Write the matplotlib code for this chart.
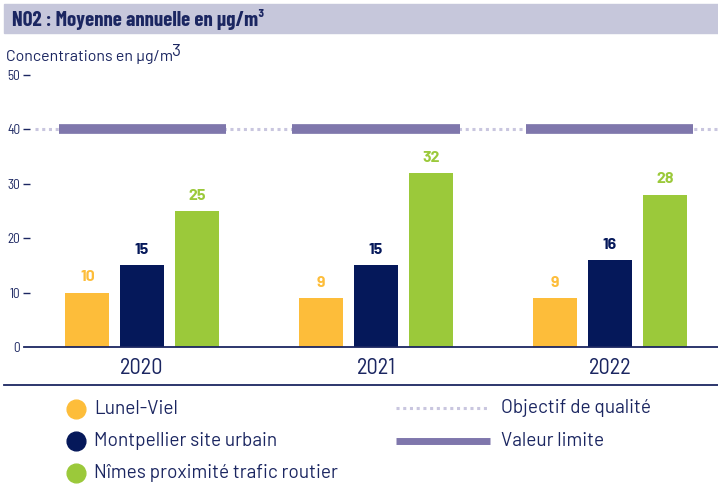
import matplotlib
matplotlib.use('Agg')
import matplotlib.pyplot as plt
from matplotlib.lines import Line2D

years = ['2020', '2021', '2022']
stations = ['Lunel-Viel', 'Montpellier site urbain', 'Nîmes proximité trafic routier']
lunel = [10, 9, 9]
montpellier = [15, 15, 16]
nimes = [25, 32, 28]
valeur_limite = 40
objectif_qualite = 40
yticks = [0, 10, 20, 30, 40, 50]

colors = ['#FDBD3A', '#05185A', '#9BC93A']
navy = '#1B2661'
limit_col = '#7F77AC'
obj_col = '#C9C6DF'

plt.rcParams['font.family'] = ['Barlow Semi Condensed', 'DejaVu Sans']
body = ['Barlow', 'DejaVu Sans']

W, H = 718, 493
fig = plt.figure(figsize=(W / 100, H / 100), dpi=100)


def fy(py):
    return 1 - py / H


# header band
fig.patches.append(plt.Rectangle((4 / W, fy(33)), 714 / W, 29 / H,
                                 transform=fig.transFigure, color='#C6C7DB', zorder=0))
fig.text(12 / W, fy(19), 'NO2 : Moyenne annuelle en µg/m³', fontsize=15,
         fontweight='bold', family=['Barlow Condensed', 'DejaVu Sans'],
         color=navy, va='center', ha='left')

# y axis title with a full-size raised "3"
ylab = fig.text(6 / W, fy(57), 'Concentrations en µg/m', fontsize=11.5,
                family=body, color=navy, va='center', ha='left')
fig.canvas.draw()
x_end = ylab.get_window_extent().x1 / W
fig.text(x_end - 2 / W, fy(52), '3', fontsize=12.5, family=body,
         color=navy, va='center', ha='left')

ax = fig.add_axes([30 / W, fy(347), (W - 30) / W, (347 - 75) / H])
ax.set_xlim(-0.479, 2.462)
ax.set_ylim(0, 50)

x = range(len(years))
bw = 0.188
step = 0.234
for i, (vals, c) in enumerate(zip([lunel, montpellier, nimes], colors)):
    pos = [g + (i - 1) * step for g in x]
    bars = ax.bar(pos, vals, width=bw, color=c, zorder=2)
    for b, v in zip(bars, vals):
        ax.annotate(str(v), (b.get_x() + b.get_width() / 2, v), xytext=(0, 6),
                    textcoords='offset points', ha='center', va='bottom',
                    fontsize=11.5, fontweight='bold', family=body, color=c)

# quality objective (dotted) and limit value (thick segments)
ax.axhline(objectif_qualite, xmin=5 / 688, xmax=1, color=obj_col, lw=2.2,
           linestyle=(0, (1, 1.2)), zorder=1)
for g in x:
    ax.plot([g - 0.357, g + 0.357], [valeur_limite, valeur_limite], color=limit_col,
            lw=7, solid_capstyle='butt', zorder=3)

for s in ax.spines.values():
    s.set_visible(False)

ax.set_yticks(yticks)
ax.tick_params(axis='y', length=5, width=1, color=navy, labelcolor=navy,
               labelsize=9.5, pad=2)
ax.yaxis.get_major_ticks()[0].tick1line.set_visible(False)
ax.set_xticks(list(x))
ax.set_xticklabels(years, fontsize=16, color=navy)
ax.tick_params(axis='x', length=0, pad=8)

# baseline and separator under the years
fig.add_artist(Line2D([24 / W, 1], [fy(347), fy(347)], transform=fig.transFigure,
                      color=navy, lw=1.3))
fig.add_artist(Line2D([4 / W, 1], [fy(385), fy(385)], transform=fig.transFigure,
                      color=navy, lw=1.3))

# legend
for k, (name, c) in enumerate(zip(stations, colors)):
    yy = fy(409 + 32 * k)
    fig.add_artist(Line2D([75.5 / W], [yy], marker='o', markersize=13.5, color=c,
                          linestyle='none', transform=fig.transFigure))
    fig.text(94 / W, yy, name, fontsize=13.7, family=body, color=navy,
             va='center', ha='left')

yy = fy(408)
fig.add_artist(Line2D([396 / W, 490 / W], [yy, yy], color=obj_col, lw=2.2,
                      linestyle=(0, (1, 1.2)), transform=fig.transFigure))
fig.text(501 / W, yy, 'Objectif de qualité', fontsize=13.7, family=body, color=navy,
         va='center', ha='left')
yy = fy(441)
fig.add_artist(Line2D([396 / W, 490 / W], [yy, yy], color=limit_col, lw=5,
                      solid_capstyle='butt', transform=fig.transFigure))
fig.text(501 / W, yy, 'Valeur limite', fontsize=13.7, family=body, color=navy,
         va='center', ha='left')

fig.savefig('out.png', dpi=100)
